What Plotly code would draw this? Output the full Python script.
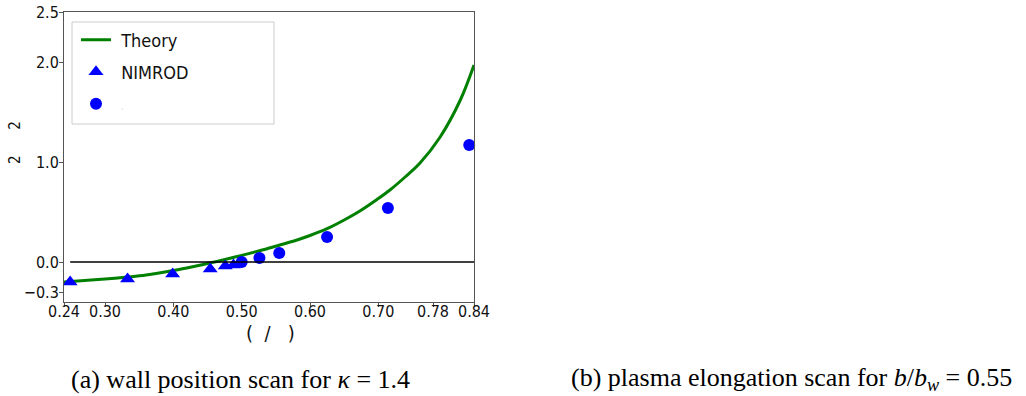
import plotly.graph_objects as go

# ---- data ----
theory_x = [0.24, 0.27, 0.30, 0.333, 0.36, 0.40, 0.43, 0.455, 0.48, 0.50, 0.53, 0.556,
            0.58, 0.60, 0.625, 0.65, 0.673, 0.698, 0.717, 0.74, 0.761, 0.79, 0.82, 0.84]
theory_y = [-0.20, -0.186, -0.17, -0.15, -0.13, -0.085, -0.045, -0.008, 0.032, 0.066, 0.12, 0.17,
            0.218, 0.265, 0.333, 0.42, 0.51, 0.625, 0.72, 0.855, 0.99, 1.245, 1.62, 1.97]

nimrod_x = [0.249, 0.333, 0.399, 0.454, 0.476, 0.488]
nimrod_y = [-0.20, -0.17, -0.12, -0.07, -0.04, -0.03]

circ_x = [0.500, 0.526, 0.555, 0.625, 0.714, 0.833]
circ_y = [0.00, 0.04, 0.09, 0.25, 0.54, 1.17]

x_ticks = [0.24, 0.30, 0.40, 0.50, 0.60, 0.70, 0.78, 0.84]
x_ticklabels = ["0.24", "0.30", "0.40", "0.50", "0.60", "0.70", "0.78", "0.84"]
y_ticks = [-0.3, 0.0, 1.0, 2.0, 2.5]
y_ticklabels = ["\u22120.3", "0.0", "1.0", "2.0", "2.5"]

legend_names = ["\u00a0Theory", "\u00a0NIMROD", "\u00a0<span style='color:#c8c8c8;font-size:7px'>-</span>"]
caption_a = "(a) wall position scan for <i>\u03ba</i> = 1.4"
caption_b = "(b) plasma elongation scan for <i>b</i>/<i>b</i><sub><i>w</i></sub> = 0.55"

W, H = 1026, 396
L, R, T, B = 64, 474, 12, 302
FONT = "DejaVu Sans Condensed, DejaVu Sans, sans-serif"

def px(xp):
    return (xp - L) / (R - L)

def py(yp):
    return (B - yp) / (B - T)

fig = go.Figure()
fig.add_trace(go.Scatter(x=theory_x, y=theory_y, mode="lines", name=legend_names[0],
                         line=dict(color="#008000", width=3, shape="spline", smoothing=1.0),
                         legend="legend", cliponaxis=True))
fig.add_trace(go.Scatter(x=nimrod_x, y=nimrod_y, mode="markers", name=legend_names[1],
                         marker=dict(symbol="triangle-up", color="#0000ff", size=13),
                         legend="legend2", cliponaxis=False))
fig.add_trace(go.Scatter(x=circ_x, y=circ_y, mode="markers", name=legend_names[2],
                         marker=dict(symbol="circle", color="#0000ff", size=12),
                         legend="legend3", cliponaxis=False))

axis_common = dict(showgrid=False, zeroline=False, showline=True, mirror=True,
                   linecolor="#555555", linewidth=1, ticks="outside", ticklen=4,
                   tickcolor="#555555", automargin=False,
                   tickfont=dict(family=FONT, size=16, color="#111"))

fig.update_layout(
    width=W, height=H, autosize=False,
    margin=dict(l=L, r=W - R, t=T, b=H - B, pad=0),
    paper_bgcolor="white", plot_bgcolor="white",
    showlegend=True,
    xaxis=dict(range=[0.24, 0.84], tickvals=x_ticks, ticktext=x_ticklabels,
               ticklabelstandoff=-9, **axis_common),
    yaxis=dict(range=[-0.4, 2.5], tickvals=y_ticks, ticktext=y_ticklabels,
               ticklabelstandoff=-3, **axis_common),
)

leg_common = dict(bgcolor="rgba(0,0,0,0)", borderwidth=0, xanchor="left", yanchor="middle",
                  font=dict(family=FONT, size=18, color="#111"), itemwidth=30)
fig.update_layout(
    legend=dict(x=px(76), y=py(40), **leg_common),
    legend2=dict(x=px(76), y=py(72), **leg_common),
    legend3=dict(x=px(76), y=py(104), **leg_common),
)

# legend frame
fig.add_shape(type="rect", xref="paper", yref="paper",
              x0=px(72), x1=px(274), y0=py(124), y1=py(22),
              line=dict(color="#cccccc", width=1), fillcolor="rgba(255,255,255,0.8)", layer="below")

# zero line
fig.add_shape(type="line", xref="x", yref="y", x0=nimrod_x[0], x1=0.84, y0=0, y1=0,
              line=dict(color="black", width=1.5))

# axis labels (glyphs mostly missing in the original)
fig.add_annotation(xref="paper", yref="paper", x=px(15), y=py(143), xanchor="center", yanchor="middle",
                   text="2\u00a0\u00a0\u00a0\u00a0\u00a0\u00a02", textangle=-90, showarrow=False,
                   font=dict(family=FONT, size=15, color="#111"))
fig.add_annotation(xref="paper", yref="paper", x=px(270), y=py(333), xanchor="center", yanchor="middle",
                   text="(\u00a0\u00a0/\u00a0\u00a0\u00a0)", showarrow=False,
                   font=dict(family=FONT, size=20, color="#111"))

# captions
fig.add_annotation(xref="paper", yref="paper", x=px(240), y=py(379), xanchor="center", yanchor="middle",
                   text=caption_a, showarrow=False,
                   font=dict(family="Liberation Serif, serif", size=26, color="black"))
fig.add_annotation(xref="paper", yref="paper", x=px(791), y=py(379), xanchor="center", yanchor="middle",
                   text=caption_b, showarrow=False,
                   font=dict(family="Liberation Serif, serif", size=26, color="black"))

fig.write_html("out.html")
